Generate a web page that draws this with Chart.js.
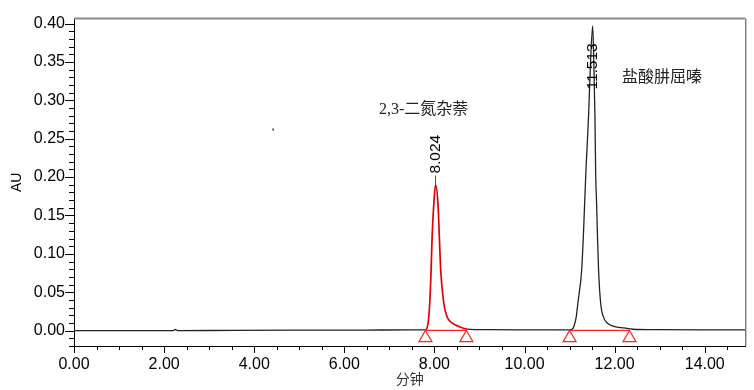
<!DOCTYPE html>
<html><head><meta charset="utf-8">
<script src="https://cdn.jsdelivr.net/npm/chart.js@4/dist/chart.umd.min.js"></script>
<style>html,body{margin:0;padding:0;background:#fff}#wrap{width:754px;height:390px}</style>
</head><body><div id="wrap"><canvas id="c" width="754" height="390"></canvas></div>
<script>
// ---- data ----
const timeMin = [0.00,1.00,2.20,2.25,2.30,3.50,5.00,6.50,7.50,7.80,
  7.86,7.896,7.926,7.948,7.985,8.024,8.08,8.11,8.14,8.207,8.28,8.39,8.54,8.73,
  9.20,10.00,11.00,
  11.06,11.095,11.148,11.184,11.267,11.304,11.333,11.362,11.42,11.46,11.513,
  11.54,11.563,11.578,11.60,11.62,11.644,11.689,11.75,11.837,11.985,12.21,12.40,
  13.00,14.00,14.90];
const absorbance = [0.0000,0.0000,0.0000,0.0015,0.0000,0.0003,0.0006,0.0008,0.0009,0.0010,
  0.010,0.036,0.078,0.121,0.164,0.190,0.164,0.121,0.078,0.036,0.018,0.010,0.0055,0.0020,
  0.0012,0.0010,0.0010,
  0.0020,0.0055,0.018,0.036,0.078,0.121,0.164,0.207,0.278,0.342,0.397,
  0.342,0.278,0.207,0.164,0.121,0.078,0.036,0.018,0.010,0.0055,0.0035,0.0018,
  0.0012,0.0010,0.0010];
const retentionTimes = [8.024, 11.513];
const peakHeights = [0.190, 0.397];
const peakLabels = ['8.024', '11.513'];
const compoundNames = ['2,3-二氮杂萘', '盐酸肼屈嗪'];
const integrationMarks = [7.80, 8.71, 11.00, 12.33];
const baselineLevels = [0.0004, 0.0004, 0.0004, 0.0004];
const redPeakRange = [7.80, 8.73];
const artifactPoint = [4.42, 0.262];
const xTickStep = 0.5, xLabelStep = 2, xMax = 14.9;
const yTickStep = 0.01, yLabelStep = 0.05;
const xTitle = '分钟', yTitle = 'AU';

// ---- build datasets ----
const trace = timeMin.map((t, i) => ({x: t, y: absorbance[i]}));
const marks = integrationMarks.map(t => ({x: t, y: -0.0095}));
const baseSegs = [
  {x: integrationMarks[0], y: baselineLevels[0]}, {x: integrationMarks[1], y: baselineLevels[1]},
  {x: (integrationMarks[1] + integrationMarks[2]) / 2, y: null},
  {x: integrationMarks[2], y: baselineLevels[2]}, {x: integrationMarks[3], y: baselineLevels[3]}
];

const FONT = "'Liberation Sans', Arial, sans-serif";

const decorPlugin = {
  id: 'decor',
  afterDraw(chart, args, opts) {
    const ctx = chart.ctx, ca = chart.chartArea;
    const xs = chart.scales.x, ys = chart.scales.y;
    ctx.save();
    // frame top & right
    ctx.strokeStyle = '#8a8a8a'; ctx.lineWidth = 2;
    ctx.beginPath(); ctx.moveTo(ca.left, ca.top); ctx.lineTo(ca.right, ca.top); ctx.stroke();
    ctx.strokeStyle = '#444'; ctx.lineWidth = 1;
    ctx.beginPath(); ctx.moveTo(ca.right + 0.5, ca.top); ctx.lineTo(ca.right + 0.5, ca.bottom); ctx.stroke();
    // tick marks
    ctx.strokeStyle = '#000'; ctx.lineWidth = 1;
    ys.ticks.forEach(t => {
      const y = Math.round(ys.getPixelForValue(t.value)) + 0.5;
      const major = Math.abs(Math.round(t.value / yLabelStep) * yLabelStep - t.value) < 1e-6;
      const len = major ? 9 : 5;
      ctx.beginPath(); ctx.moveTo(ca.left - len, y); ctx.lineTo(ca.left, y); ctx.stroke();
    });
    xs.ticks.forEach(t => {
      const x = Math.round(xs.getPixelForValue(t.value)) + 0.5;
      const major = Math.abs(Math.round(t.value / xLabelStep) * xLabelStep - t.value) < 1e-6;
      const len = major ? 7 : 4;
      ctx.beginPath(); ctx.moveTo(x, ca.bottom); ctx.lineTo(x, ca.bottom + len); ctx.stroke();
    });
    // peak retention-time labels
    ctx.fillStyle = '#000';
    ctx.font = '15.5px ' + FONT;
    retentionTimes.forEach((rt, i) => {
      const x = xs.getPixelForValue(rt);
      const yPeak = ys.getPixelForValue(peakHeights[i]);
      const yLab = ys.getPixelForValue(opts.labelAt[i]);
      if (yLab < yPeak - 2) {
        ctx.strokeStyle = '#555'; ctx.lineWidth = 1;
        ctx.beginPath(); ctx.moveTo(x, yPeak); ctx.lineTo(x, yLab + 2); ctx.stroke();
      }
      ctx.save();
      ctx.translate(x, yLab);
      ctx.rotate(-Math.PI / 2);
      ctx.textAlign = 'left'; ctx.textBaseline = 'middle';
      ctx.fillText(peakLabels[i], 0, 0);
      ctx.restore();
    });
    // compound names
    ctx.fillStyle = '#222';
    ctx.font = "16px 'Liberation Serif', 'Noto Sans CJK SC', serif";
    ctx.textAlign = 'center'; ctx.textBaseline = 'middle';
    compoundNames.forEach((n, i) => {
      const p = opts.namesAt[i];
      ctx.fillText(n, xs.getPixelForValue(p[0]), ys.getPixelForValue(p[1]));
    });
    ctx.restore();
  }
};

new Chart(document.getElementById('c'), {
  type: 'line',
  data: {
    datasets: [
      { type: 'scatter', data: marks, pointStyle: 'triangle', pointRadius: 7.5,
        borderColor: '#ff2020', backgroundColor: 'rgba(255,255,255,0)', pointBorderWidth: 1.2, clip: false },
      { type: 'line', data: baseSegs, borderColor: '#ff2020', borderWidth: 1.2, pointRadius: 0, spanGaps: false },
      { type: 'scatter', data: [{x: artifactPoint[0], y: artifactPoint[1]}], pointStyle: 'rect',
        pointRadius: 1.3, borderColor: '#555', backgroundColor: '#555', borderWidth: 0 },
      { type: 'line', data: trace, borderColor: '#222', borderWidth: 1.3, pointRadius: 0,
        cubicInterpolationMode: 'monotone',
        segment: {
          borderColor: c => (c.p0.parsed.x >= redPeakRange[0] && c.p1.parsed.x <= redPeakRange[1]) ? '#e00000' : '#222',
          borderWidth: c => (c.p0.parsed.x >= redPeakRange[0] && c.p1.parsed.x <= redPeakRange[1]) ? 1.7 : 1.3
        } }
    ]
  },
  options: {
    responsive: false, animation: false, devicePixelRatio: 1,
    layout: { padding: { left: 0, right: 7, top: 15, bottom: 0 } },
    plugins: {
      legend: { display: false }, tooltip: { enabled: false },
      decor: { labelAt: [0.2045, 0.314], namesAt: [[7.76, 0.288], [13.05, 0.329]] }
    },
    scales: {
      x: {
        type: 'linear', min: 0, max: xMax,
        afterBuildTicks: s => { const t = []; for (let v = 0; v <= xMax + 1e-9; v += xTickStep) t.push({value: +v.toFixed(2)}); s.ticks = t; },
        afterFit: s => { s.height = 44; },
        grid: { display: true, drawOnChartArea: false, drawTicks: false },
        border: { display: true, color: '#000', width: 1 },
        ticks: { autoSkip: false, maxRotation: 0, padding: 9, color: '#000', font: { family: FONT, size: 16 },
          callback: v => (Math.abs(v / xLabelStep - Math.round(v / xLabelStep)) < 1e-6) ? v.toFixed(2) : '' },
        title: { display: true, text: xTitle, color: '#333', font: { family: "'Noto Sans CJK SC'", size: 14 }, padding: { top: 0, bottom: 3 } }
      },
      y: {
        type: 'linear', min: -0.02, max: 0.4064,
        afterBuildTicks: s => { const t = []; for (let k = -2; k <= 40; k++) t.push({value: +(k * yTickStep).toFixed(2)}); s.ticks = t; },
        afterFit: s => { s.width = 74; },
        grid: { display: true, drawOnChartArea: false, drawTicks: false },
        border: { display: true, color: '#000', width: 1 },
        ticks: { autoSkip: false, padding: 9, color: '#000', font: { family: FONT, size: 16 },
          callback: v => { const k = Math.round(v * 100); return (k >= 0 && k % 5 === 0) ? (k / 100).toFixed(2) : ''; } },
        title: { display: true, text: yTitle, color: '#000', font: { family: FONT, size: 14 }, padding: { top: 9, bottom: 0 } }
      }
    }
  },
  plugins: [decorPlugin]
});
</script></body></html>
